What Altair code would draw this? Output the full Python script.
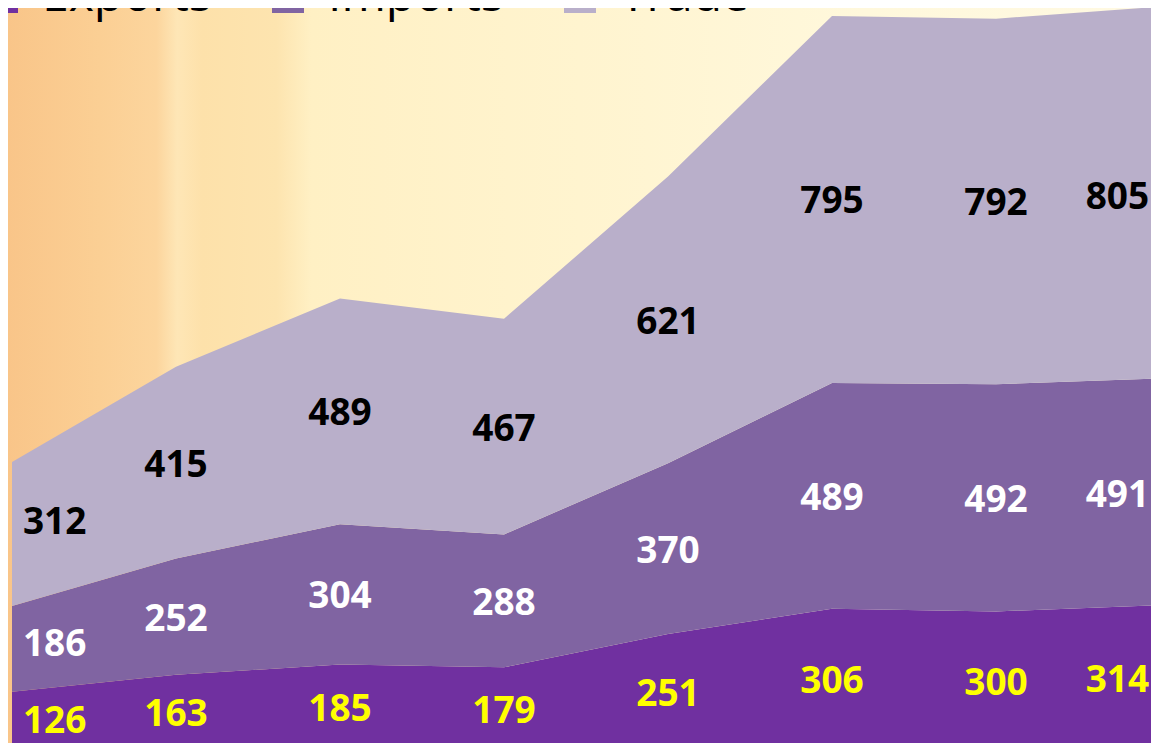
import altair as alt
import pandas as pd

# ---- data ----
series = ["Exports", "Imports", "Trade"]
points = [0, 1, 2, 3, 4, 5, 6, 7]
exports = [126, 163, 185, 179, 251, 306, 300, 314]
imports = [186, 252, 304, 288, 370, 489, 492, 491]
trade = [312, 415, 489, 467, 621, 795, 792, 805]

colors = ["#7030A0", "#8064A2", "#B9AFCA"]
label_colors = ["#FFFF00", "#FFFFFF", "#000000"]

rows = []
for rank, (name, vals) in enumerate(zip(series, [exports, imports, trade])):
    for i, v in zip(points, vals):
        rows.append({"idx": i, "series": name, "value": v, "rank": rank})
df = pd.DataFrame(rows)

W, H = 1139, 735
xscale = alt.Scale(domain=[0, 7 * W / 1148], nice=False, zero=False)
yscale = alt.Scale(domain=[15.16, 1607.1], nice=False, zero=False)

# background gradient (decorative)
bg = alt.Chart(pd.DataFrame({"a": [0]})).mark_rect(
    fill=alt.LinearGradient(
        gradient="linear", x1=0, x2=1, y1=0, y2=0,
        stops=[
            alt.GradientStop(color="#F9C589", offset=0.0),
            alt.GradientStop(color="#FBCF94", offset=0.08),
            alt.GradientStop(color="#FCD59D", offset=0.13),
            alt.GradientStop(color="#FEE6B6", offset=0.148),
            alt.GradientStop(color="#FDE1AA", offset=0.17),
            alt.GradientStop(color="#FDE4AF", offset=0.235),
            alt.GradientStop(color="#FFF0C4", offset=0.265),
            alt.GradientStop(color="#FFF4CF", offset=0.5),
            alt.GradientStop(color="#FFF8DC", offset=0.75),
            alt.GradientStop(color="#FFF9E2", offset=1.0),
        ],
    ),
    strokeWidth=0,
).encode(x=alt.value(-4), x2=alt.value(W), y=alt.value(0), y2=alt.value(H))

base = alt.Chart(df).transform_stack(
    stack="value", groupby=["idx"], as_=["y0", "y1"],
    sort=[alt.SortField("rank", order="ascending")],
)

areas = base.mark_area(opacity=1).encode(
    x=alt.X("idx:Q", scale=xscale, axis=None),
    y=alt.Y("y1:Q", scale=yscale, axis=None),
    y2="y0:Q",
    color=alt.Color(
        "series:N",
        scale=alt.Scale(domain=series, range=colors),
        legend=alt.Legend(
            orient="none", legendX=-34, legendY=-35, direction="horizontal",
            title=None, labelFontSize=48, labelFont="Open Sans", labelColor="#000000",
            labelLimit=0, symbolType="square", symbolSize=1024, symbolStrokeWidth=0,
            symbolOpacity=1, labelOffset=16, columnPadding=52,
        ),
    ),
    order=alt.Order("rank:Q"),
)

labels_base = base.transform_calculate(
    mid="(datum.y0 + datum.y1) / 2"
).transform_window(
    nxt="lead(mid)", prv="lag(mid)", groupby=["series"],
    sort=[alt.SortField("idx", order="ascending")],
).transform_calculate(
    lx="datum.idx == 0 ? 0.26 : (datum.idx == 7 ? 6.74 : datum.idx)",
    ly="datum.idx == 0 ? datum.mid + 0.2 * (datum.nxt - datum.mid) : "
       "(datum.idx == 7 ? datum.mid + 0.23 * (datum.prv - datum.mid) : datum.mid)",
)

text_layers = []
for name, col in zip(series, label_colors):
    text_layers.append(
        labels_base.transform_filter(alt.datum.series == name).mark_text(
            font="Open Sans", fontWeight="bold", fontSize=37, color=col,
            align="center", baseline="middle", dy=3,
        ).encode(
            x=alt.X("lx:Q", scale=xscale, axis=None),
            y=alt.Y("ly:Q", scale=yscale, axis=None),
            text=alt.Text("value:Q"),
        )
    )

chart = alt.layer(bg, areas, *text_layers).properties(
    width=W, height=H,
    autosize=alt.AutoSizeParams(type="none"),
    padding={"left": 4, "top": 0, "right": 0, "bottom": 0},
).configure_view(strokeWidth=0)

chart.save("out.html", embed_options={"renderer": "svg", "actions": False})
